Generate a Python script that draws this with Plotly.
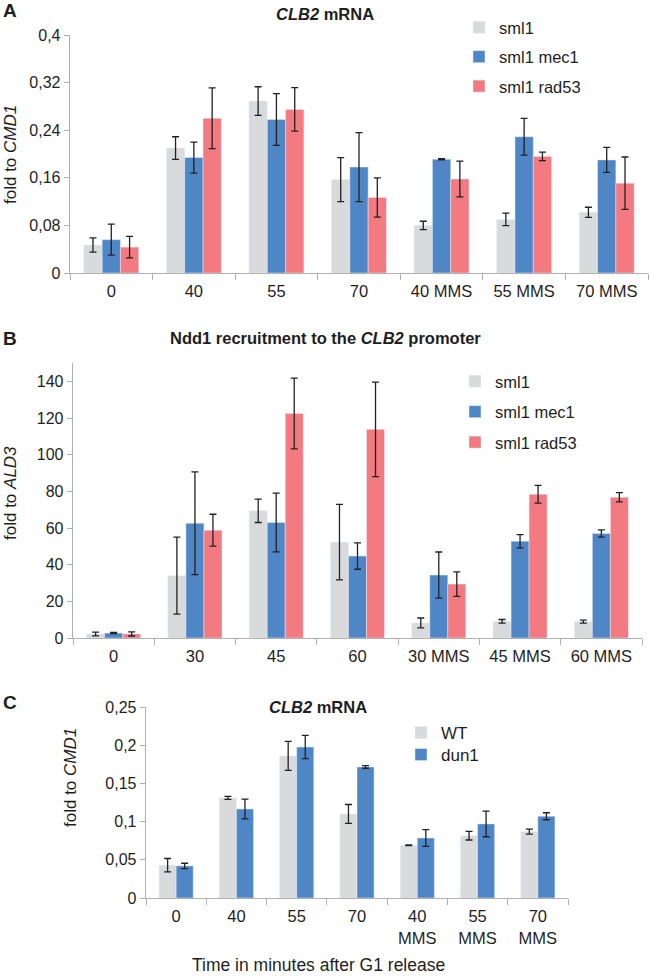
import plotly.graph_objects as go

# ---------------- data ----------------
a_cats = ["0", "40", "55", "70", "40 MMS", "55 MMS", "70 MMS"]
a_sml1 = [0.047, 0.210, 0.289, 0.157, 0.080, 0.090, 0.102]
a_sml1_err = [0.012, 0.019, 0.024, 0.037, 0.007, 0.0105, 0.0085]
a_mec1 = [0.056, 0.194, 0.258, 0.178, 0.191, 0.229, 0.190]
a_mec1_err = [0.026, 0.026, 0.0435, 0.058, 0.001, 0.031, 0.021]
a_rad53 = [0.0435, 0.260, 0.275, 0.127, 0.158, 0.196, 0.151]
a_rad53_err = [0.018, 0.051, 0.0365, 0.033, 0.030, 0.007, 0.044]

b_cats = ["0", "30", "45", "60", "30 MMS", "45 MMS", "60 MMS"]
b_sml1 = [2.2, 34.0, 69.4, 52.3, 8.2, 9.1, 8.9]
b_sml1_err = [1.0, 21.0, 6.4, 20.6, 2.7, 1.0, 0.8]
b_mec1 = [2.7, 62.6, 63.0, 44.7, 34.3, 52.8, 57.0]
b_mec1_err = [0.3, 28.0, 16.0, 7.2, 12.6, 3.6, 2.0]
b_rad53 = [2.2, 58.8, 122.5, 113.8, 29.4, 78.4, 76.8]
b_rad53_err = [1.1, 8.7, 19.3, 25.8, 6.7, 4.8, 2.5]

c_cats = ["0", "40", "55", "70", "40<br>MMS", "55<br>MMS", "70<br>MMS"]
c_wt = [0.043, 0.131, 0.186, 0.110, 0.069, 0.0816, 0.0868]
c_wt_err = [0.0087, 0.002, 0.019, 0.0124, 0.0005, 0.0057, 0.0033]
c_dun1 = [0.042, 0.1165, 0.1976, 0.1715, 0.0785, 0.097, 0.107]
c_dun1_err = [0.0035, 0.013, 0.0153, 0.0017, 0.011, 0.0168, 0.0046]

# ---------------- style ----------------
GRAY = "#d9dadc"
BLUE = "#4f86c6"
RED = "#f27a80"
FONT = "Liberation Sans"
TXT = "#1e1e1e"
AXC = "#b0b0b0"
W, H = 650, 976


def px_x(x):
    return x / W


def px_y(y):
    return 1 - y / H


def err(arr):
    return dict(type="data", array=arr, visible=True, color="#222222",
                thickness=1.3, width=3.5)


fig = go.Figure()

# Panel A
for name, vals, e, col, g in [("sml1", a_sml1, a_sml1_err, GRAY, "a1"),
                              ("sml1 mec1", a_mec1, a_mec1_err, BLUE, "a2"),
                              ("sml1 rad53", a_rad53, a_rad53_err, RED, "a3")]:
    fig.add_trace(go.Bar(x=a_cats, y=vals, name=name, marker_color=col,
                         error_y=err(e), xaxis="x", yaxis="y",
                         legend="legend", legendgroup=g))

# Panel B
for name, vals, e, col, g in [("sml1", b_sml1, b_sml1_err, GRAY, "b1"),
                              ("sml1 mec1", b_mec1, b_mec1_err, BLUE, "b2"),
                              ("sml1 rad53", b_rad53, b_rad53_err, RED, "b3")]:
    fig.add_trace(go.Bar(x=b_cats, y=vals, name=name, marker_color=col,
                         error_y=err(e), xaxis="x2", yaxis="y2",
                         legend="legend2", legendgroup=g))

# Panel C
fig.add_trace(go.Bar(x=c_cats, y=c_wt, name="WT", marker_color=GRAY,
                     error_y=err(c_wt_err), xaxis="x3", yaxis="y3",
                     width=0.283, offset=-0.283, legend="legend3"))
fig.add_trace(go.Bar(x=c_cats, y=c_dun1, name="dun1", marker_color=BLUE,
                     error_y=err(c_dun1_err), xaxis="x3", yaxis="y3",
                     width=0.283, offset=0.0, legend="legend4"))

xcommon = dict(type="category", tickson="boundaries", ticks="outside",
               ticklen=6, tickcolor=AXC, showline=True, linecolor=AXC,
               linewidth=1.3, showgrid=False, zeroline=False,
               tickfont=dict(family=FONT, size=16.5, color=TXT),
               ticklabelstandoff=3, fixedrange=True)
ycommon = dict(ticks="outside", ticklen=5, tickcolor=AXC, showline=True,
               linecolor=AXC, linewidth=1.3, showgrid=False, zeroline=False,
               tickfont=dict(family=FONT, size=16, color=TXT),
               fixedrange=True)

fig.update_layout(
    width=W, height=H,
    margin=dict(l=0, r=0, t=0, b=0, autoexpand=False),
    paper_bgcolor="white", plot_bgcolor="white",
    separators=", ",
    barmode="group", bargap=0.335, bargroupgap=0,
    font=dict(family=FONT, color=TXT),
    xaxis=dict(xcommon, domain=[px_x(70), px_x(648)], anchor="y"),
    yaxis=dict(ycommon, domain=[px_y(273), px_y(35)], range=[0, 0.4],
               dtick=0.08, anchor="x"),
    xaxis2=dict(xcommon, domain=[px_x(73), px_x(642)], anchor="y2"),
    yaxis2=dict(ycommon, domain=[px_y(638), px_y(363)], range=[0, 150],
                dtick=20, anchor="x2"),
    xaxis3=dict(xcommon, domain=[px_x(146), px_x(568)], anchor="y3"),
    yaxis3=dict(ycommon, domain=[px_y(898), px_y(707)], range=[0, 0.25],
                dtick=0.05, anchor="x3"),
    legend=dict(x=px_x(459), y=px_y(57), xanchor="left", yanchor="middle",
                bgcolor="rgba(0,0,0,0)", tracegroupgap=5,
                font=dict(family=FONT, size=16.5, color=TXT)),
    legend2=dict(x=px_x(455), y=px_y(412), xanchor="left", yanchor="middle",
                 bgcolor="rgba(0,0,0,0)", tracegroupgap=6,
                 font=dict(family=FONT, size=16.5, color=TXT)),
    legend3=dict(x=px_x(401), y=px_y(733), xanchor="left", yanchor="middle",
                 bgcolor="rgba(0,0,0,0)",
                 font=dict(family=FONT, size=17, color=TXT)),
    legend4=dict(x=px_x(401), y=px_y(755), xanchor="left", yanchor="middle",
                 bgcolor="rgba(0,0,0,0)",
                 font=dict(family=FONT, size=17, color=TXT)),
)

ann = [
    # panel letters
    dict(text="<b>A</b>", x=px_x(1), y=px_y(11), size=19, xa="left"),
    dict(text="<b>B</b>", x=px_x(1), y=px_y(338), size=19, xa="left"),
    dict(text="<b>C</b>", x=px_x(1), y=px_y(702), size=19, xa="left"),
    # titles
    dict(text="<b><i>CLB2</i> mRNA</b>", x=px_x(325), y=px_y(14), size=16.5, xa="center"),
    dict(text="<b>Ndd1 recruitment to the <i>CLB2</i> promoter</b>", x=px_x(326), y=px_y(338), size=16.5, xa="center"),
    dict(text="<b><i>CLB2</i> mRNA</b>", x=px_x(318), y=px_y(707), size=16.5, xa="center"),
    # x title
    dict(text="Time in minutes after G1 release", x=px_x(318), y=px_y(965), size=17.5, xa="center"),
]
for a in ann:
    fig.add_annotation(text=a["text"], x=a["x"], y=a["y"], xref="paper", yref="paper",
                       xanchor=a["xa"], yanchor="middle", showarrow=False,
                       font=dict(family=FONT, size=a["size"], color=TXT))

for text, x, y in [("fold to <i>CMD1</i>", 10, 155),
                   ("fold to <i>ALD3</i>", 10, 493),
                   ("fold to <i>CMD1</i>", 70, 778)]:
    fig.add_annotation(text=text, x=px_x(x), y=px_y(y), xref="paper", yref="paper",
                       xanchor="center", yanchor="middle", textangle=-90,
                       showarrow=False, font=dict(family=FONT, size=17, color=TXT))

fig.write_html("out.html",
               config={"displayModeBar": False, "staticPlot": True},
               post_script="document.body.style.margin='0';document.body.style.padding='0';")
